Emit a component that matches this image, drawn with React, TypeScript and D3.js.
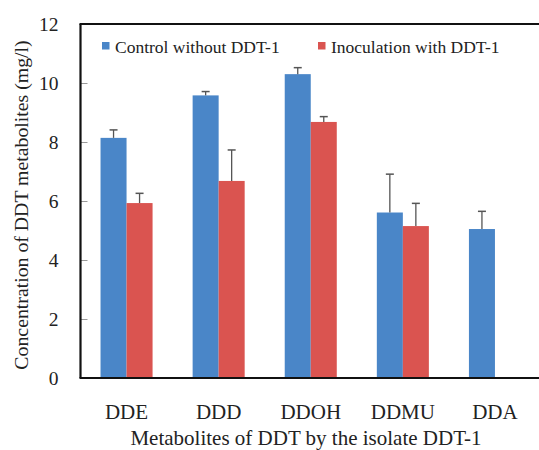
import React, { useEffect, useRef } from 'react';
import * as d3 from 'd3';

// values
const metabolites = ['DDE', 'DDD', 'DDOH', 'DDMU', 'DDA'];
const seriesNames = ['Control without DDT-1', 'Inoculation with DDT-1'];
const controlValues = [8.14, 9.58, 10.3, 5.61, 5.05];
const controlErrors = [0.27, 0.13, 0.22, 1.3, 0.6];
const inoculationValues = [5.93, 6.68, 8.68, 5.15, null];
const inoculationErrors = [0.33, 1.05, 0.18, 0.77, null];
const yTicks = [0, 2, 4, 6, 8, 10, 12];

const COLORS = ['#4a86c8', '#da5450'];

const App = () => {
  const ref = useRef<SVGSVGElement | null>(null);

  useEffect(() => {
    if (!ref.current) return;
    const svg = d3.select(ref.current);
    svg.selectAll('*').remove();

    const width = 539;
    const height = 450;
    const margin = { top: 24, right: -2, bottom: 72, left: 80.5 };
    const plotW = width - margin.left - margin.right;
    const plotH = height - margin.top - margin.bottom;
    const font = 'Liberation Serif, Times New Roman, serif';

    const g = svg.append('g').attr('transform', `translate(${margin.left},${margin.top})`);

    const x0 = d3.scaleBand().domain(metabolites).range([0, plotW]).paddingInner(0.435).paddingOuter(0.2175);
    const x1 = d3.scaleBand().domain(seriesNames).range([0, x0.bandwidth()]);
    const y = d3.scaleLinear().domain([0, 12]).range([plotH, 0]);

    // y axis ticks (inward) and labels
    const yAxis = g.append('g').call(
      d3.axisLeft(y).tickValues(yTicks).tickSize(-7).tickPadding(22).tickFormat(d3.format('d'))
    );
    yAxis.attr('font-family', font);
    yAxis.select('.domain').remove();
    yAxis.selectAll('line').attr('stroke', '#999').attr('stroke-width', 1);
    yAxis.selectAll('text').attr('font-family', font).attr('font-size', 19.5).attr('fill', '#222');

    const series = [
      { name: seriesNames[0], values: controlValues, errors: controlErrors, color: COLORS[0] },
      { name: seriesNames[1], values: inoculationValues, errors: inoculationErrors, color: COLORS[1] }
    ];

    series.forEach(s => {
      const rows = metabolites
        .map((m, i) => ({ m, v: s.values[i], e: s.errors[i] }))
        .filter(d => d.v != null);

      g.selectAll(null)
        .data(rows)
        .enter()
        .append('rect')
        .attr('x', d => x0(d.m)! + x1(s.name)!)
        .attr('y', d => y(d.v as number))
        .attr('width', x1.bandwidth())
        .attr('height', d => plotH - y(d.v as number))
        .attr('fill', s.color);

      // upper error bars only
      const cx = (d: any) => x0(d.m)! + x1(s.name)! + x1.bandwidth() / 2;
      g.selectAll(null)
        .data(rows)
        .enter()
        .append('line')
        .attr('x1', cx)
        .attr('x2', cx)
        .attr('y1', d => y(d.v as number))
        .attr('y2', d => y((d.v as number) + (d.e as number)))
        .attr('stroke', '#555')
        .attr('stroke-width', 1.3);
      g.selectAll(null)
        .data(rows)
        .enter()
        .append('line')
        .attr('x1', d => cx(d) - 4)
        .attr('x2', d => cx(d) + 4)
        .attr('y1', d => y((d.v as number) + (d.e as number)))
        .attr('y2', d => y((d.v as number) + (d.e as number)))
        .attr('stroke', '#555')
        .attr('stroke-width', 1.5);
    });

    // frame: left, bottom and top lines
    g.append('line').attr('x1', 0).attr('x2', 0).attr('y1', 0).attr('y2', plotH)
      .attr('stroke', '#111').attr('stroke-width', 2.2);
    g.append('line').attr('x1', -1).attr('x2', plotW).attr('y1', plotH).attr('y2', plotH)
      .attr('stroke', '#111').attr('stroke-width', 2.2);
    g.append('line').attr('x1', -1).attr('x2', plotW).attr('y1', 0).attr('y2', 0)
      .attr('stroke', '#111').attr('stroke-width', 2.2);

    // x category labels
    g.selectAll(null)
      .data(metabolites)
      .enter()
      .append('text')
      .attr('x', d => x0(d)! + x0.bandwidth() / 2)
      .attr('y', plotH + 41)
      .attr('text-anchor', 'middle')
      .attr('font-family', font)
      .attr('font-size', 21)
      .attr('fill', '#222')
      .text(d => d);

    // axis titles
    svg.append('text')
      .attr('x', 306)
      .attr('y', 445)
      .attr('text-anchor', 'middle')
      .attr('font-family', font)
      .attr('font-size', 21)
      .attr('fill', '#222')
      .text('Metabolites of DDT by the isolate DDT-1');

    svg.append('text')
      .attr('transform', 'translate(28,205) rotate(-90)')
      .attr('text-anchor', 'middle')
      .attr('font-family', font)
      .attr('font-size', 19.8)
      .attr('fill', '#222')
      .text('Concentration of DDT metabolites (mg/l)');

    // legend
    const legendX = [102, 318];
    series.forEach((s, i) => {
      svg.append('rect')
        .attr('x', legendX[i])
        .attr('y', 42)
        .attr('width', 7.5)
        .attr('height', 7.5)
        .attr('fill', s.color);
      svg.append('text')
        .attr('x', legendX[i] + 13)
        .attr('y', 53)
        .attr('font-family', font)
        .attr('font-size', 17.5)
        .attr('fill', '#222')
        .text(s.name);
    });
  }, []);

  return (
    <svg
      ref={ref}
      width={539}
      height={450}
      style={{ position: 'absolute', left: 0, top: 0, background: '#fff' }}
    />
  );
};

export default App;
